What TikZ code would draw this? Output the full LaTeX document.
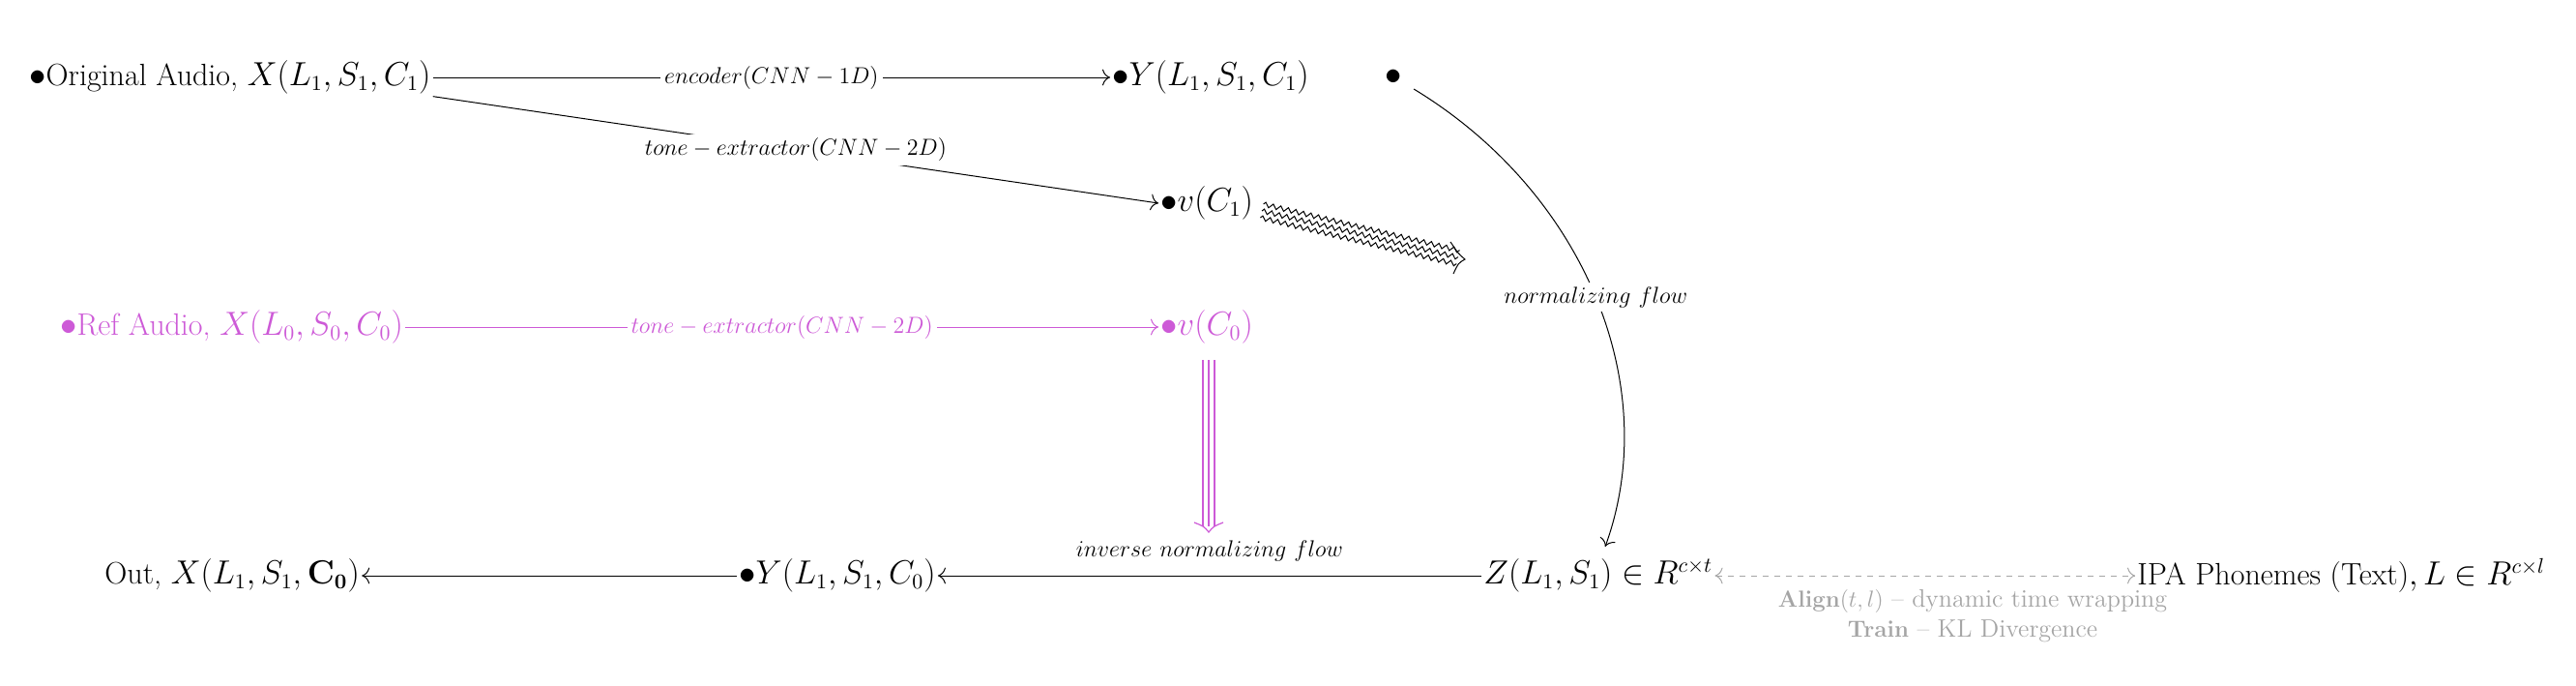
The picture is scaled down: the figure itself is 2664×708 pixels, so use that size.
\documentclass[tikz,border=0pt]{standalone}
\usetikzlibrary{decorations.pathmorphing,arrows.meta,calc}
\definecolor{mag}{RGB}{205,90,215}
\definecolor{gr}{RGB}{165,165,165}
\begin{document}
\begin{tikzpicture}[x=0.5pt,y=-0.5pt,
  obj/.style={font=\fontsize{16}{19}\selectfont,inner sep=1pt,anchor=west},
  lab/.style={font=\fontsize{12.5}{15}\selectfont,fill=white,inner sep=2pt},
  ar/.style={-{To[length=4pt]},line width=0.5pt}]
\useasboundingbox (0,0) rectangle (2664,708);
\node[obj] (oa) at (28,80) {$\bullet$Original Audio, $X(L_1,S_1,C_1)$};
\node[obj] (y1) at (1148,80) {$\bullet Y(L_1,S_1,C_1)$};
\node[obj] (bu) at (1430,80) {$\bullet$};
\node[obj] (v1) at (1198,210) {$\bullet v(C_1)$};
\node[obj,text=mag] (ra) at (60,338) {$\bullet$Ref Audio, $X(L_0,S_0,C_0)$};
\node[obj,text=mag] (v0) at (1198,338) {$\bullet v(C_0)$};
\node[obj] (out) at (106,595) {Out, $X(L_1,S_1,\mathbf{C_0})$};
\node[obj] (y0) at (762,595) {$\bullet Y(L_1,S_1,C_0)$};
\node[obj] (z) at (1532,595) {$Z(L_1,S_1)\in R^{c\times t}$};
\node[obj] (ipa) at (2208,595) {IPA Phonemes (Text)$, L\in R^{c\times l}$};
\coordinate (zt) at (1660,565);
\draw[ar] (oa.east) -- node[lab]{$encoder(CNN-1D)$} (y1.west);
\draw[ar] (oa.south east) -- node[lab]{$tone-extractor(CNN-2D)$} (v1.west);
\draw[ar,mag] (ra.east) -- node[lab,text=mag]{$tone-extractor(CNN-2D)$} (v0.west);
\draw[ar] (bu.east)++(10,12) .. controls (1640,200) and (1720,400) .. node[lab,pos=0.5]{$normalizing\ flow$} (zt);
\foreach \d in {-7,0,7}
  \draw[decorate,decoration={zigzag,amplitude=1.2pt,segment length=4pt},line width=0.5pt]
    ($(1305,218)+(-0.23*\d,\d)$) -- ($(1508,266)+(-0.23*\d,\d)$);
\draw[line width=0.5pt] (1500,250) .. controls (1508,262) .. (1515,268) .. controls (1508,272) .. (1503,283);
\foreach \d in {-6,0,6} \draw[mag,line width=0.6pt] (1250+\d,372) -- (1250+\d,544);
\draw[mag,line width=0.6pt] (1235,540) .. controls (1245,544) .. (1250,550) .. controls (1255,544) .. (1265,540);
\draw[ar] (z.west) -- node[above=4pt,font=\fontsize{12.5}{15}\selectfont]{$inverse\ normalizing\ flow$} (y0.east);
\draw[ar] (y0.west) -- (out.east);
\draw[{To[length=4pt]}-{To[length=4pt]},gr,dashed,line width=0.5pt] (z.east) -- (ipa.west);
\node[text=gr,font=\fontsize{13}{15}\selectfont] (al) at (2040,621) {$\mathbf{Align}(t,l)$ -- dynamic time wrapping};
\node[text=gr,font=\fontsize{13}{15}\selectfont] (tr) at (2040,652) {$\mathbf{Train}$ -- KL Divergence};
\end{tikzpicture}
\end{document}
